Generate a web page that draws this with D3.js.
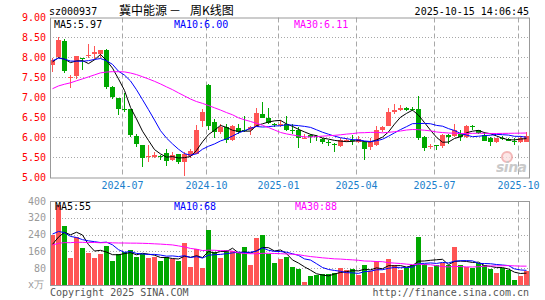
<!DOCTYPE html>
<html><head><meta charset="utf-8">
<script src="https://cdn.jsdelivr.net/npm/d3@7"></script>
<style>body{margin:0;background:#fff}svg{display:block}</style>
</head><body><svg id="c" width="545" height="300"></svg>
<script>
// ---- data (weekly candles, 80 weeks) ----
const openP  = [7.81,8.02,8.41,7.48,7.54,8.00,8.04,8.08,8.10,8.18,7.27,6.99,6.72,6.71,6.03,5.81,5.53,5.52,5.54,5.62,
                5.43,5.58,5.38,5.54,5.60,6.40,7.31,6.38,6.14,6.27,5.93,6.24,6.19,6.18,6.27,6.58,6.49,6.33,6.32,6.33,
                6.20,6.20,5.98,6.07,6.03,5.97,5.88,5.85,5.79,5.91,5.94,5.89,5.89,5.76,5.81,6.18,6.30,6.64,6.68,6.75,
                6.72,6.71,6.02,5.77,5.81,5.79,6.07,6.04,6.10,6.02,6.28,6.18,6.07,6.00,5.89,6.00,5.97,5.91,5.89,5.89];
const highP  = [8.00,8.52,8.46,7.56,8.04,8.00,8.33,8.29,8.19,8.21,7.30,7.00,7.12,6.71,6.10,5.81,5.81,5.64,5.56,5.71,
                5.64,5.60,5.64,5.72,6.31,6.70,7.35,6.45,6.33,6.33,6.32,6.33,6.55,6.30,6.74,6.88,6.73,6.37,6.43,6.55,
                6.33,6.27,6.08,6.08,6.07,6.00,5.95,5.86,6.00,6.00,6.07,6.03,5.92,6.00,6.29,6.30,6.74,6.85,6.82,6.77,
                6.77,7.03,6.04,5.85,5.82,6.09,6.09,6.33,6.20,6.31,6.31,6.20,6.14,6.01,6.00,6.03,5.98,5.98,6.03,6.14];
const lowP   = [7.64,7.98,7.62,7.25,7.46,7.70,8.00,7.97,7.98,7.20,6.97,6.56,6.64,6.02,5.77,5.27,5.38,5.48,5.45,5.29,
                5.40,5.35,5.04,5.50,5.60,6.27,6.18,6.00,6.10,5.87,5.90,6.10,6.15,6.06,6.27,6.48,6.35,6.27,6.27,6.16,
                6.09,5.75,5.96,5.87,5.90,5.85,5.79,5.64,5.76,5.88,5.81,5.87,5.44,5.70,5.79,6.15,6.30,6.60,6.66,6.66,
                6.67,5.95,5.65,5.72,5.70,5.75,5.85,6.02,5.91,6.00,6.18,6.08,5.91,5.78,5.87,5.93,5.90,5.82,5.87,5.88];
const closeP = [7.93,8.43,7.67,7.51,8.03,7.97,8.06,8.14,8.18,7.27,7.02,6.71,6.70,6.06,5.83,5.49,5.55,5.56,5.52,5.42,
                5.56,5.38,5.60,5.67,6.18,6.63,6.29,6.14,6.27,5.93,6.28,6.14,6.18,6.27,6.62,6.50,6.37,6.32,6.33,6.18,
                6.19,6.00,6.00,6.02,6.02,5.89,5.87,5.84,5.93,5.95,5.93,5.97,5.71,5.89,6.20,6.27,6.63,6.68,6.75,6.68,
                6.68,6.00,5.75,5.80,5.79,6.07,6.02,6.20,6.02,6.28,6.27,6.12,5.91,5.89,6.00,5.99,5.92,5.90,6.00,6.05];
const volume = [242,383,284,130,229,177,154,130,148,187,115,151,159,171,135,151,130,135,115,135,
                127,119,201,88,174,83,265,159,130,171,163,154,185,100,225,239,151,107,124,138,
                88,77,17,46,52,57,57,61,83,72,80,52,100,68,119,60,124,99,72,83,
                96,229,104,88,96,107,100,182,96,88,83,107,100,77,60,83,72,25,46,69];
// estimated weeks before the visible window (only feed the moving averages)
const priorCloses  = [6.35,6.40,6.45,6.50,6.55,6.58,6.62,6.65,6.68,6.72,6.76,6.83,
                      6.90,7.00,7.10,7.20,7.35,7.50,7.60,7.66,
                      7.80,7.90,8.00,8.05,8.00,7.90,7.85,7.95,7.82];
const priorVolumes = [150,180,140,160,200,170,130,190,160,150,175,165,185,140,170,160,180,155,195,185,
                      260,340,310,280,280,210,170,190,168];
const monthIndex  = [12,26,38,51,64,78];
const monthLabels = ["2024-07","2024-10","2025-01","2025-04","2025-07","2025-10"];
const priceTicks  = [5.00,5.50,6.00,6.50,7.00,7.50,8.00,8.50,9.00];
const volTicks    = [80,160,240,320,400];
const priceLegend = ["MA5:5.97","MA10:6.00","MA30:6.11"];
const volLegend   = ["MA5:55","MA10:68","MA30:88"];
const maPeriods   = [5,10,30];
const maColors    = ["#000000","#0000ff","#ff00ff"];

// ---- drawing ----
const RED = "#ff5555", GREEN = "#00a800";
const svg = d3.select("#c");
const N = closeP.length;
const mono = "'DejaVu Sans Mono', monospace";
const cjk = "'Noto Sans CJK SC', sans-serif";
const L = 50, R = 529;
const x = d3.scaleBand().domain(d3.range(N)).range([L, L + 6 * N]).paddingInner(0);
const y = d3.scaleLinear().domain([5, 9]).range([177.5, 17.5]);
const yv = d3.scaleLinear().domain([0, 400]).range([285.5, 201.5]);

function ma(prior, vals, n) {
  const all = prior.concat(vals), off = prior.length;
  return vals.map((v, i) => d3.mean(all.slice(off + i - n + 1, off + i + 1)));
}

// header
svg.append("text").attr("x", 49).attr("y", 15).attr("font-family", mono).attr("font-size", 10).text("sz000937");
const title = svg.append("text").attr("y", 15).attr("font-family", cjk).attr("font-size", 12);
title.append("tspan").attr("x", 119).text("冀中能源");
title.append("tspan").attr("x", 169).text("－");
title.append("tspan").attr("x", 190).text("周K线图");
svg.append("text").attr("x", 529).attr("y", 15).attr("text-anchor", "end").attr("font-family", mono).attr("font-size", 10).text("2025-10-15 14:06:45");

function panel(top, bottom, ys, ticks) {
  const g = svg.append("g");
  g.selectAll(".h").data(ticks.filter(t => Math.round(ys(t)) > top + 1 && Math.round(ys(t)) < bottom - 1))
    .enter().append("line")
    .attr("x1", L).attr("x2", R)
    .attr("y1", t => Math.floor(ys(t)) + 0.5).attr("y2", t => Math.floor(ys(t)) + 0.5)
    .attr("stroke", "#a8a8a8").attr("stroke-dasharray", "1,2");
  g.selectAll(".v").data(monthIndex).enter().append("line")
    .attr("x1", i => x(i) + 0.5).attr("x2", i => x(i) + 0.5)
    .attr("y1", top).attr("y2", bottom)
    .attr("stroke", "#a8a8a8").attr("stroke-dasharray", "5,3");
  return g;
}

// ---------- price panel ----------
const pTop = 17.5, pBot = 177.5;
panel(pTop, pBot, y, priceTicks);
const cg = svg.append("g").attr("shape-rendering", "crispEdges");
d3.range(N).forEach(i => {
  const up = closeP[i] >= openP[i];
  const col = up ? RED : GREEN;
  const cx = x(i) + 2;
  const yh = Math.round(y(highP[i])), yl = Math.round(y(lowP[i]));
  cg.append("rect").attr("x", cx).attr("width", 1).attr("y", yh).attr("height", Math.max(1, yl - yh)).attr("fill", col);
  const yt = Math.round(y(Math.max(openP[i], closeP[i]))), yb = Math.round(y(Math.min(openP[i], closeP[i])));
  cg.append("rect").attr("x", x(i)).attr("width", 5).attr("y", yt).attr("height", Math.max(1, yb - yt)).attr("fill", col);
});
maPeriods.forEach((n, k) => {
  const m = ma(priorCloses, closeP, n);
  svg.append("path").datum(m)
    .attr("d", d3.line().x((d, i) => x(i) + 2.5).y(d => y(d)))
    .attr("fill", "none").attr("stroke", maColors[k]).attr("stroke-width", 1);
});
svg.append("rect").attr("x", L + 0.5).attr("y", pTop + 0.5).attr("width", R - L).attr("height", pBot - pTop)
  .attr("fill", "none").attr("stroke", "#999");
svg.selectAll(".pl").data(priceTicks).enter().append("text")
  .attr("x", 46).attr("y", d => y(d) + 3.5).attr("text-anchor", "end")
  .attr("font-family", mono).attr("font-size", 10).attr("fill", "#ff0000")
  .text(d => d.toFixed(2));
svg.selectAll(".ml").data(monthIndex).enter().append("text")
  .attr("x", i => x(i) + 0.5).attr("y", 189).attr("text-anchor", "middle")
  .attr("font-family", mono).attr("font-size", 10).attr("fill", "#1a80cc")
  .text((d, k) => monthLabels[k]);
[54, 174, 294].forEach((lx, k) => {
  svg.append("text").attr("x", lx).attr("y", 28).attr("font-family", mono).attr("font-size", 10)
    .attr("fill", maColors[k]).text(priceLegend[k]);
});
// sina watermark
const wm = svg.append("g").attr("opacity", 0.75);
wm.append("circle").attr("cx", 507).attr("cy", 157).attr("r", 5).attr("fill", "#fbe0e0").attr("stroke", "#f0a0a0").attr("stroke-width", 2);
wm.append("text").attr("x", 496).attr("y", 172).attr("font-family", "'DejaVu Sans', sans-serif")
  .attr("font-size", 14).attr("font-weight", "bold").attr("font-style", "italic").attr("letter-spacing", -0.5)
  .attr("fill", "#b8b8b8").text("sina");

// ---------- volume panel ----------
const vTop = 201.5, vBot = 285.5;
panel(vTop, vBot, yv, volTicks);
const vg = svg.append("g").attr("shape-rendering", "crispEdges");
vg.selectAll("rect").data(volume).enter().append("rect")
  .attr("x", (d, i) => x(i)).attr("width", 5)
  .attr("y", d => Math.round(yv(d))).attr("height", d => Math.max(1, 285 - Math.round(yv(d))))
  .attr("fill", (d, i) => closeP[i] >= openP[i] ? RED : GREEN);
maPeriods.forEach((n, k) => {
  const m = ma(priorVolumes, volume, n);
  svg.append("path").datum(m)
    .attr("d", d3.line().x((d, i) => x(i) + 2.5).y(d => yv(d)))
    .attr("fill", "none").attr("stroke", maColors[k]).attr("stroke-width", 1);
});
svg.append("rect").attr("x", L + 0.5).attr("y", vTop).attr("width", R - L).attr("height", vBot - vTop)
  .attr("fill", "none").attr("stroke", "#999");
svg.selectAll(".vl").data(volTicks).enter().append("text")
  .attr("x", 46).attr("y", d => yv(d) + 3).attr("text-anchor", "end")
  .attr("font-family", mono).attr("font-size", 10).attr("fill", "#999")
  .text(d => d);
svg.append("text").attr("x", 28).attr("y", 288).attr("font-family", mono).attr("font-size", 10)
  .attr("fill", "#999").text("x万");
[55, 174, 295].forEach((lx, k) => {
  svg.append("text").attr("x", lx).attr("y", 209.5).attr("font-family", mono).attr("font-size", 10)
    .attr("fill", maColors[k]).text(volLegend[k]);
});
svg.append("text").attr("x", 50).attr("y", 296).attr("font-family", mono).attr("font-size", 10)
  .attr("fill", "#555").text("Copyright 2025 SINA.COM");
svg.append("text").attr("x", 529).attr("y", 296).attr("text-anchor", "end").attr("font-family", mono).attr("font-size", 10)
  .attr("fill", "#555").text("http://finance.sina.com.cn");
</script></body></html>
